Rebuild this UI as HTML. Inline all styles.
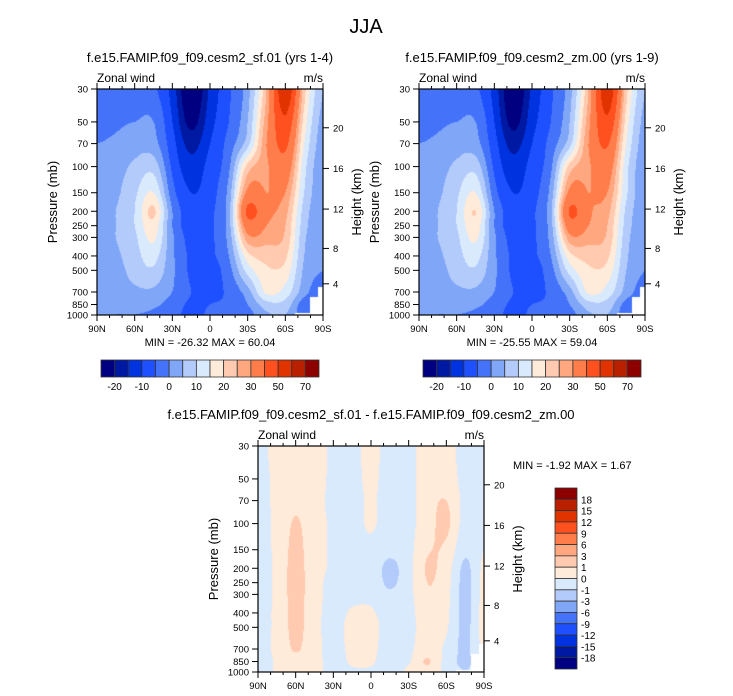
<!DOCTYPE html>
<html><head><meta charset="utf-8">
<style>
body{margin:0;background:#fff;width:733px;height:696px;overflow:hidden;font-family:"Liberation Sans",sans-serif;}
#wrap{position:relative;width:733px;height:696px;}
canvas{position:absolute;}
svg{position:absolute;left:0;top:0;}
</style></head>
<body><div id="wrap">
<canvas id="c1" width="226" height="226" style="left:97px;top:89px"></canvas>
<canvas id="c2" width="226" height="226" style="left:419px;top:89px"></canvas>
<canvas id="c3" width="226" height="226" style="left:258px;top:446px"></canvas>
<svg id="s" width="733" height="696"></svg>
</div>
<script>
// grid: latitudes (deg, + = N) and pressure levels (mb)
const lats=[90,75,60,45,30,15,0,-15,-30,-45,-60,-75,-90];
const levs=[30,50,70,100,150,200,250,300,400,500,700,850,1000];
// rows = lats, columns = levs  (m/s)
const uSF=[
[-3,-2,0,2,2,2,2,2,2,2,2,1,1],
[-3,-1,1,3,4,5,5,5,4,3,2,1,0],
[-3,0,3,6,9,10,10,9,8,7,4,2,0],
[-4,0,2,8,15,21,18,16,12,9,4,1,-1],
[-12,-10,-8,-6,-3,0,0,1,1,1,0,-2,-3],
[-27,-22,-17,-13,-10,-8,-8,-7,-6,-6,-5,-6,-7],
[-14,-12,-10,-8,-7,-6,-6,-6,-6,-7,-6,-5,-4],
[-6,-5,-3,-1,2,3,3,2,0,-2,-4,-4,-3],
[3,5,8,22,32,42,35,28,18,12,3,0,-2],
[25,28,30,29,30,32,30,27,22,19,16,8,4],
[58,48,42,36,30,27,25,24,21,18,13,8,5],
[22,18,15,12,10,8,7,6,5,4,2,-3,-3],
[5,3,2,1,1,1,1,1,1,0,-4,-4,-4]];
const uZM=[
[-3,-2,0,2,2,2,2,2,2,2,2,1,1],
[-3,-1,1,3,4,5,5,5,4,3,2,1,0],
[-3,0,3,6,9,10,10,9,8,7,4,2,0],
[-4,0,2,8,15,20,18,16,12,9,4,1,-1],
[-12,-10,-8,-6,-3,0,0,1,1,1,0,-2,-3],
[-26,-22,-17,-13,-10,-8,-8,-7,-6,-6,-5,-6,-7],
[-14,-12,-10,-8,-7,-6,-6,-6,-6,-7,-6,-5,-4],
[-6,-5,-3,-1,2,4,3,2,0,-2,-4,-4,-3],
[3,5,8,22,32,41,35,28,18,12,3,0,-2],
[25,28,30,29,30,31,30,27,22,19,16,8,4],
[57,48,41,35,30,27,25,24,21,18,13,8,5],
[22,18,15,12,11,9,8,7,6,5,3,-2,-3],
[5,3,2,1,1,1,1,1,1,0,-3,-4,-4]];
const uDiff=[
[-0.3,-0.3,-0.3,-0.3,-0.3,-0.3,-0.3,-0.3,-0.3,-0.3,-0.3,-0.3,-0.3],
[0.3,0.2,0.2,0.2,0.2,0.2,0.2,0.2,0.2,0.2,0.2,0.1,0.1],
[0.5,0.6,0.8,1.1,1.3,1.4,1.4,1.4,1.3,1.3,1.1,0.7,0.5],
[0.4,0.4,0.3,0.3,0.3,0.3,0.3,0.3,0.3,0.3,0.3,0.3,0.3],
[-0.2,-0.2,-0.2,-0.1,-0.1,-0.1,-0.2,-0.2,-0.3,-0.3,-0.3,-0.3,-0.3],
[-0.3,-0.3,-0.3,-0.3,-0.3,-0.3,-0.3,-0.2,0.1,0.3,0.2,0.1,-0.1],
[0.3,0.2,0.1,0.1,-0.2,-0.3,-0.3,-0.2,0.1,0.3,0.2,0.1,-0.1],
[-0.4,-0.4,-0.4,-0.4,-0.7,-1.3,-1.2,-0.8,-0.4,-0.4,-0.4,-0.4,-0.4],
[-0.3,-0.3,-0.3,-0.3,-0.3,-0.3,-0.3,-0.3,-0.3,-0.3,-0.2,-0.1,0.2],
[0.5,0.5,0.6,0.6,0.9,1.1,1.0,0.9,0.6,0.5,0.5,1.1,0.6],
[0.3,0.5,1.0,1.2,0.8,0.5,0.4,0.3,0.2,0.1,-0.2,-0.4,-0.3],
[-0.3,-0.3,-0.3,-0.4,-0.8,-1.2,-1.3,-1.3,-1.3,-1.3,-1.2,-1.2,-1.0],
[-0.3,-0.3,-0.2,-0.2,0.0,0.2,0.3,0.3,0.4,0.4,0.2,-0.3,-0.3]];
const levelsU=[-20,-15,-10,-5,0,5,10,15,20,25,30,40,50,60,70];
const levelsD=[-18,-15,-12,-9,-6,-3,-1,0,1,3,6,9,12,15,18];
const cbLabelsU=["-20","-10","0","10","20","30","50","70"];
const cbLabelsD=["-18","-15","-12","-9","-6","-3","-1","0","1","3","6","9","12","15","18"];
const colors=["#000080","#0019A3","#0033E0","#1F50FF","#4473FA","#80A6F7","#B3CBFB","#D9EAFD","#FFEBD9","#FFCAB0","#FFA880","#FF7D4B","#FF5020","#E03300","#B82000","#8C0000"];
const pTicks=[30,50,70,100,150,200,250,300,400,500,700,850,1000];
const latTicks=[90,60,30,0,-30,-60,-90];
const latLabels=["90N","60N","30N","0","30S","60S","90S"];
const hTicks=[4,8,12,16,20];

const W=226,H=226,LN=Math.log(1000/30);
function yOfP(p){return Math.log(p/30)/LN*H;}
function xOfLat(l){return (90-l)/180*W;}
function pOfZ(z){const m=z*1000;return m<=11000?1013.25*Math.pow(1-2.25577e-5*m,5.2559):226.32*Math.exp(-(m-11000)/6341.6);}
function hex(c){return [parseInt(c.slice(1,3),16),parseInt(c.slice(3,5),16),parseInt(c.slice(5,7),16)];}
const rgb=colors.map(hex);
function idx(v,lv){let i=0;while(i<lv.length&&v>=lv[i])i++;return i;}
const lnLev=levs.map(p=>Math.log(p));
function cr(p0,p1,p2,p3,t){return 0.5*((2*p1)+(-p0+p2)*t+(2*p0-5*p1+4*p2-p3)*t*t+(-p0+3*p1-3*p2+p3)*t*t*t);}
function cl(i){return Math.max(0,Math.min(12,i));}
function sample(F,lat,p){
  let fi=(90-lat)/15; let i0=Math.min(Math.floor(fi),11), ti=fi-i0;
  const lp=Math.log(p); let j0=0; while(j0<11&&lp>lnLev[j0+1])j0++;
  let tj=(lp-lnLev[j0])/(lnLev[j0+1]-lnLev[j0]); tj=Math.max(0,Math.min(1,tj));
  const col=[];
  for(let dj=-1;dj<=2;dj++){const j=cl(j0+dj);
    col.push(cr(F[cl(i0-1)][j],F[i0][j],F[i0+1][j],F[cl(i0+2)][j],ti));}
  return cr(col[0],col[1],col[2],col[3],tj);
}
function paint(id,F,lv,mask){
  const cv=document.getElementById(id),ctx=cv.getContext('2d'),img=ctx.createImageData(W,H);
  for(let y=0;y<H;y++){const p=30*Math.exp((y+0.5)/H*LN);
    for(let x=0;x<W;x++){const lat=90-(x+0.5)/W*180;
      let col=rgb[idx(sample(F,lat,p),lv)];
      if(mask&&((lat<-86&&p>650)||(lat<-80&&p>760)||(lat<-68&&p>975))) col=[255,255,255];
      const k=(y*W+x)*4;img.data[k]=col[0];img.data[k+1]=col[1];img.data[k+2]=col[2];img.data[k+3]=255;}}
  ctx.putImageData(img,0,0);
}
paint('c1',uSF,levelsU,true);paint('c2',uZM,levelsU,true);paint('c3',uDiff,levelsD,true);

const S=document.getElementById('s');const NS="http://www.w3.org/2000/svg";
function el(t,a,txt){const e=document.createElementNS(NS,t);for(const k in a)e.setAttribute(k,a[k]);if(txt!==undefined)e.textContent=txt;S.appendChild(e);return e;}
function txt(x,y,s,size,anchor,name,extra){const e=el('text',Object.assign({x:x,y:y,'font-size':size,'text-anchor':anchor||'start',fill:'#000'},extra||{}),s);

return e;}
function axes(X0,Y0,title,tag){
  const g=el('rect',{x:X0,y:Y0,width:W,height:H,fill:'none',stroke:'#000','stroke-width':1.2});
  
  
  pTicks.forEach(p=>{const y=Y0+yOfP(p);el('line',{x1:X0-6,x2:X0,y1:y,y2:y,stroke:'#000'});
    txt(X0-9,y+3.5,String(p),9.5,'end',tag+'-pressure-tick');});
  hTicks.forEach(z=>{const y=Y0+yOfP(pOfZ(z));el('line',{x1:X0+W,x2:X0+W+6,y1:y,y2:y,stroke:'#000'});
    txt(X0+W+10,y+3.5,String(z),9.5,'start',tag+'-height-tick');});
  for(let l=90;l>=-90;l-=10){const x=X0+xOfLat(l);const big=l%30===0;
    el('line',{x1:x,x2:x,y1:Y0+H,y2:Y0+H+(big?6:3),stroke:'#000'});el('line',{x1:x,x2:x,y1:Y0,y2:Y0-(big?6:3),stroke:'#000'});}
  latTicks.forEach((l,i)=>txt(X0+xOfLat(l),Y0+H+17,latLabels[i],9.5,'middle',tag+'-lat-tick'));
  txt(X0-40,Y0+H/2,'Pressure (mb)',13,'middle',tag+'-y-axis-title',{transform:`rotate(-90 ${X0-40} ${Y0+H/2})`});
  txt(X0+W+38,Y0+H/2,'Height (km)',13,'middle',tag+'-right-axis-title',{transform:`rotate(-90 ${X0+W+38} ${Y0+H/2})`});
  txt(X0,Y0-7,'Zonal wind',12,'start',tag+'-variable-label');
  txt(X0+W,Y0-7,'m/s',12,'end',tag+'-units-label');
  txt(X0+W/2,Y0-27,title,13,'middle',tag+'-title');
}
txt(366,33,'JJA',20,'middle','figure-title');
axes(97,89,'f.e15.FAMIP.f09_f09.cesm2_sf.01 (yrs 1-4)','left');
axes(419,89,'f.e15.FAMIP.f09_f09.cesm2_zm.00 (yrs 1-9)','right');
axes(258,446,'f.e15.FAMIP.f09_f09.cesm2_sf.01 - f.e15.FAMIP.f09_f09.cesm2_zm.00','diff');
txt(210,346,'MIN = -26.32  MAX =  60.04',11,'middle','left-min-max',{'xml:space':'preserve'});
txt(532,346,'MIN = -25.55  MAX =  59.04',11,'middle','right-min-max',{'xml:space':'preserve'});
txt(513,469,'MIN =  -1.92  MAX =   1.67',11,'start','diff-min-max',{'xml:space':'preserve'});
function hbar(X0,tag){const bw=(319-101)/16;
  colors.forEach((c,i)=>{const r=el('rect',{x:X0+i*bw,y:360,width:bw,height:17,fill:c,stroke:'#333','stroke-width':0.8});
    
    });
  cbLabelsU.forEach((s,i)=>txt(X0+(1+2*i)*bw,390,s,10,'middle',tag+'-colorbar-label'));}
hbar(101,'left');hbar(423,'right');
(function(){const x=555,y0=488,bh=(669-488)/16;
  colors.slice().reverse().forEach((c,i)=>{const r=el('rect',{x:x,y:y0+i*bh,width:22,height:bh,fill:c,stroke:'#333','stroke-width':0.8});
    
    });
  cbLabelsD.slice().reverse().forEach((s,i)=>txt(581,y0+(i+1)*bh+4,s,10,'start','diff-colorbar-label'));})();
</script>
</body></html>
